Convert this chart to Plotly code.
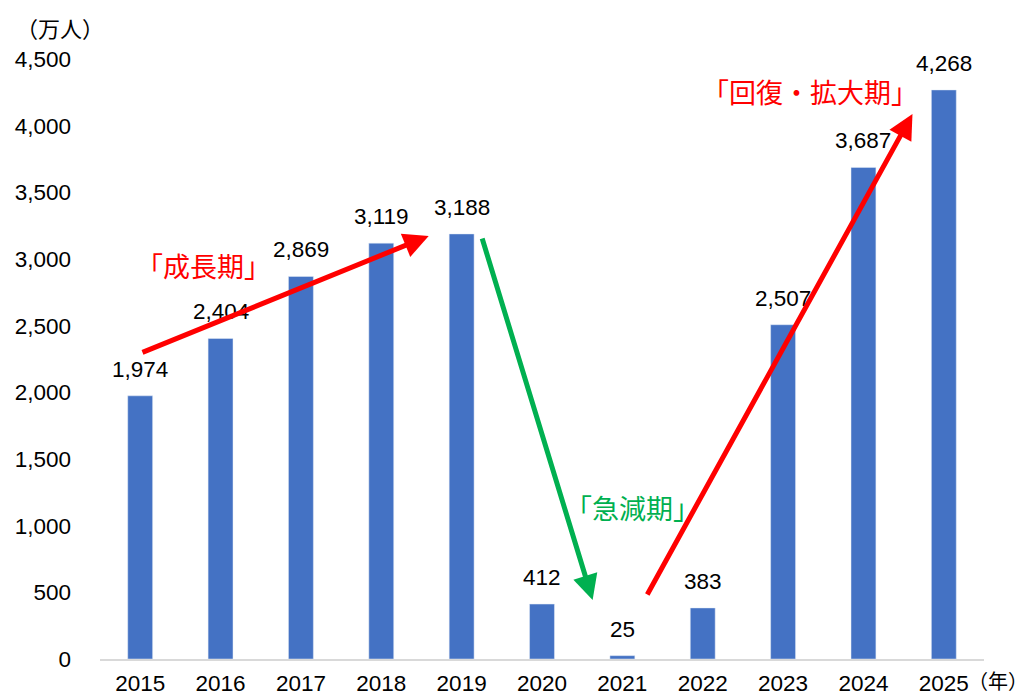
import plotly.graph_objects as go

years = ["2015", "2016", "2017", "2018", "2019", "2020", "2021", "2022", "2023", "2024", "2025"]
visitors = [1974, 2404, 2869, 3119, 3188, 412, 25, 383, 2507, 3687, 4268]
y_ticks = [0, 500, 1000, 1500, 2000, 2500, 3000, 3500, 4000, 4500]

font_num = "Liberation Sans, Arial, sans-serif"
font_jp = "Noto Sans CJK JP, sans-serif"

fig = go.Figure()
fig.add_trace(go.Bar(
    x=years,
    y=visitors,
    marker=dict(color="#4472C4"),
))

# value labels above bars
for i, v in enumerate(visitors):
    fig.add_annotation(
        x=i, y=v, xref="x", yref="y", text=f"{v:,}",
        showarrow=False, yanchor="bottom", yshift=12,
        font=dict(size=22.5, color="#000000", family=font_num),
    )

# trend arrows (x as category index, y in data units)
arrows = [
    dict(x0=0.01, y0=2295, x1=3.59, y1=3173, color="#FF0000"),
    dict(x0=4.25, y0=3165, x1=5.63, y1=443, color="#00B050"),
    dict(x0=6.30, y0=473, x1=9.61, y1=4088, color="#FF0000"),
]
for a in arrows:
    fig.add_annotation(
        x=a["x1"], y=a["y1"], ax=a["x0"], ay=a["y0"],
        xref="x", yref="y", axref="x", ayref="y",
        showarrow=True, arrowhead=2, arrowsize=1, arrowwidth=5,
        arrowcolor=a["color"], text="",
    )

phases = [
    dict(x=0.79, y=2955, text="「成長期」", color="#FF0000"),
    dict(x=6.13, y=1140, text="「急減期」", color="#00B050"),
    dict(x=8.33, y=4255, text="「回復・拡大期」", color="#FF0000"),
]
for p in phases:
    fig.add_annotation(
        x=p["x"], y=p["y"], xref="x", yref="y", text=p["text"],
        showarrow=False, font=dict(size=27, color=p["color"], family=font_jp),
    )

fig.add_annotation(x=-0.097, y=1.053, xref="paper", yref="paper", xanchor="left", yanchor="middle",
                   text="（万人）", showarrow=False,
                   font=dict(size=22, color="#000000", family=font_jp))
fig.add_annotation(x=1.052, y=-0.035, xref="paper", yref="paper", xanchor="right", yanchor="middle",
                   text="（年）", showarrow=False,
                   font=dict(size=20, color="#000000", family=font_jp))

fig.update_layout(
    width=1031, height=697,
    margin=dict(l=92, r=55, t=51, b=46),
    plot_bgcolor="white", paper_bgcolor="white",
    bargap=0.69,
    showlegend=False,
    xaxis=dict(
        type="category", automargin=False,
        showgrid=False, showline=True, linecolor="#D9D9D9", linewidth=1.5,
        ticks="", ticklabelstandoff=3,
        tickfont=dict(size=22.5, color="#000000", family=font_num),
    ),
    yaxis=dict(
        range=[0, 4500], tickvals=y_ticks, tickformat=",",
        automargin=False,
        showgrid=False, zeroline=False, showline=False,
        ticks="", ticklabelstandoff=28,
        tickfont=dict(size=22.5, color="#000000", family=font_num),
    ),
)

fig.write_html("out.html")
